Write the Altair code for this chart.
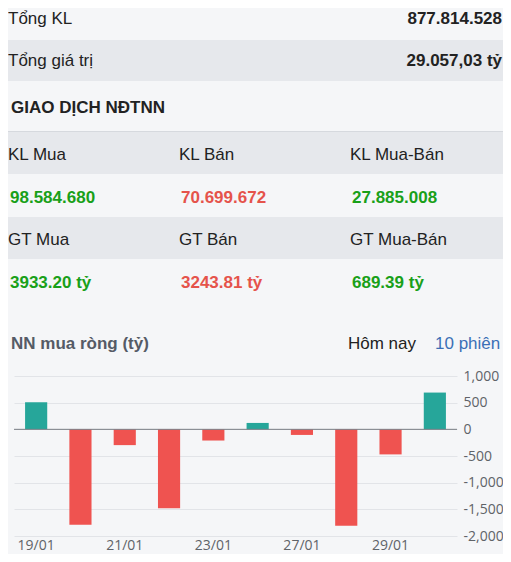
import altair as alt
import pandas as pd

# ---- data ----
dates = ["19/01", "20/01", "21/01", "22/01", "23/01", "26/01", "27/01", "28/01", "29/01", "30/01"]
net_buy = [510, -1790, -296, -1480, -210, 120, -105, -1810, -470, 689.39]
y_ticks = [1000, 500, 0, -500, -1000, -1500, -2000]
x_label_dates = ["19/01", "21/01", "23/01", "27/01", "29/01"]

summary_labels = ["Tổng KL", "Tổng giá trị"]
summary_values = ["877.814.528", "29.057,03 tỷ"]
section_title = "GIAO DỊCH NĐTNN"
kl_labels = ["KL Mua", "KL Bán", "KL Mua-Bán"]
kl_values = ["98.584.680", "70.699.672", "27.885.008"]
gt_labels = ["GT Mua", "GT Bán", "GT Mua-Bán"]
gt_values = ["3933.20 tỷ", "3243.81 tỷ", "689.39 tỷ"]
chart_title = "NN mua ròng (tỷ)"
tab_labels = ["Hôm nay", "10 phiên"]

# ---- style ----
BG = "#f5f6f8"
BAND = "#e6e8ec"
TXT = "#222222"
GREEN = "#19a019"
RED = "#e5534b"
UP = "#26a69a"
DOWN = "#ef5350"
FONT = "Liberation Sans"
AXFONT = "Open Sans"
value_colors = [GREEN, RED, GREEN]

col_label_x = [-6, 165, 336]
col_value_x = [-4, 167, 338]

one = pd.DataFrame({"k": [0]})


def band(y0, y1, color=BAND):
    return alt.Chart(one).mark_rect(color=color).encode(
        x=alt.value(-14), x2=alt.value(500), y=alt.value(y0), y2=alt.value(y1)
    )


def txt(label, x, y, color=TXT, bold=False, size=17, align="left", font=FONT):
    return alt.Chart(pd.DataFrame({"t": [label]})).mark_text(
        align=align, baseline="alphabetic", font=font, fontSize=size,
        fontWeight="bold" if bold else "normal", color=color
    ).encode(text="t:N", x=alt.value(x), y=alt.value(y))


layers = []
layers.append(band(-336, -295))
layers.append(band(-244, -202))
layers.append(band(-159, -117))
layers.append(band(-245, -244, "#d6d9de"))

layers.append(txt(summary_labels[0], -6, -352))
layers.append(txt(summary_values[0], 488, -352, bold=True, align="right"))
layers.append(txt(summary_labels[1], -6, -310))
layers.append(txt(summary_values[1], 488, -310, bold=True, align="right"))
layers.append(txt(section_title, -3, -263, bold=True))

for i in range(3):
    layers.append(txt(kl_labels[i], col_label_x[i], -216))
    layers.append(txt(kl_values[i], col_value_x[i], -173, color=value_colors[i], bold=True))
    layers.append(txt(gt_labels[i], col_label_x[i], -131))
    layers.append(txt(gt_values[i], col_value_x[i], -88, color=value_colors[i], bold=True))

layers.append(txt(chart_title, -3, -27, color="#555b66", bold=True))
layers.append(txt(tab_labels[0], 334, -27))
layers.append(txt(tab_labels[1], 421, -27, color="#3b6fb6"))

df = pd.DataFrame({"date": dates, "net": net_buy})
df["pos"] = df["net"] >= 0

y_scale = alt.Scale(domain=[-2000, 1000], nice=False)
y_axis = alt.Axis(orient="right", values=y_ticks, ticks=False, domain=False,
                  labelExpr="replace(format(datum.value, ',.0f'), '\u2212', '-')",
                  labelOverlap=False, labelPadding=6, title=None,
                  labelFont=AXFONT, labelFontSize=14,
                  labelColor="#5f6368", grid=True, gridColor="#e2e4e8", gridWidth=1)

bars = alt.Chart(df).mark_bar().encode(
    x=alt.X(
        "date:N", sort=dates,
        scale=alt.Scale(paddingInner=0.5, paddingOuter=0.25),
        axis=alt.Axis(values=x_label_dates, labelAngle=0, ticks=False, domain=False,
                      labelPadding=2, title=None, labelFont=AXFONT, labelFontSize=14,
                      labelColor="#5f6368", grid=False),
    ),
    y=alt.Y("net:Q", scale=y_scale, axis=y_axis),
    color=alt.Color("pos:N", scale=alt.Scale(domain=[True, False], range=[UP, DOWN]), legend=None),
)

zero = alt.Chart(df).transform_filter("datum.date == '19/01'").transform_calculate(
    z="0"
).mark_rule(color="#7a7e85", strokeWidth=1).encode(
    y=alt.Y("z:Q", scale=y_scale, axis=y_axis)
)

layers.append(bars)
layers.append(zero)

chart = alt.layer(*layers).properties(
    width=443,
    height=160,
    padding={"left": 6, "top": 368, "right": 46, "bottom": 18},
    autosize=alt.AutoSizeParams(type="none"),
    background=BG,
).configure_view(stroke=None)

chart.save("out.html", embed_options={"renderer": "svg", "actions": False})
